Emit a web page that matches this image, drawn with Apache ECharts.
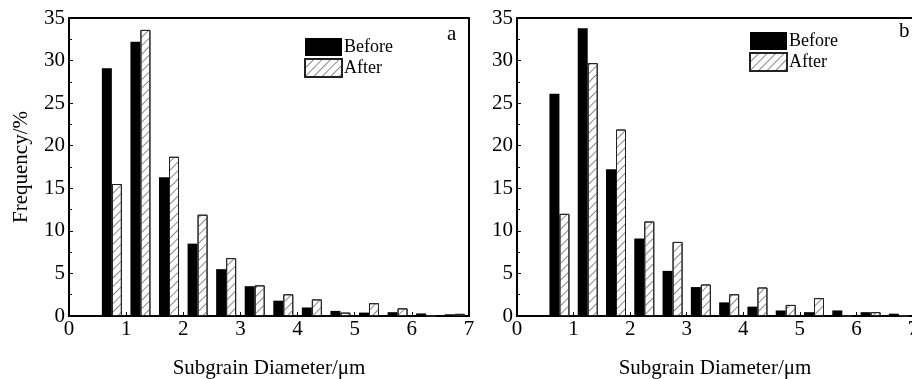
<!DOCTYPE html>
<html>
<head>
<meta charset="utf-8">
<script src="https://cdn.jsdelivr.net/npm/echarts@6/dist/echarts.min.js"></script>
<style>
html,body{margin:0;padding:0;background:#fff;}
#chart{width:912px;height:379px;}
</style>
</head>
<body>
<div id="chart"></div>
<script>
// Bin centres (µm)
const binCenters = [0.75, 1.25, 1.75, 2.25, 2.75, 3.25, 3.75, 4.25, 4.75, 5.25, 5.75, 6.25, 6.75];
// Panel a
const beforeA = [29.1, 32.2, 16.3, 8.5, 5.5, 3.5, 1.8, 1.0, 0.6, 0.4, 0.45, 0.3, 0.2];
const afterA  = [15.5, 33.6, 18.7, 11.9, 6.8, 3.6, 2.55, 1.95, 0.4, 1.5, 0.9, 0, 0.25];
// Panel b
const beforeB = [26.1, 33.8, 17.25, 9.1, 5.3, 3.4, 1.6, 1.1, 0.65, 0.45, 0.65, 0.45, 0.27];
const afterB  = [12.0, 29.7, 21.9, 11.1, 8.7, 3.7, 2.55, 3.35, 1.3, 2.1, 0, 0.45, 0];

const xTicks = [0, 7, 1];   // min, max, interval
const yTicks = [0, 35, 5];
const panelLabels = ['a', 'b'];
const seriesNames = ['Before', 'After'];
const xTitle = 'Subgrain Diameter/μm';
const yTitle = 'Frequency/%';

const FONT = 'Liberation Serif';
const pair = (vals) => binCenters.map((c, i) => [c, vals[i]]);

const hatch = {
  symbol: 'rect', symbolSize: 1,
  dashArrayX: [1, 0], dashArrayY: [1, 5],
  rotation: -Math.PI / 4, color: '#8a8a8a'
};

function xAxis(gi) {
  return {
    type: 'value', gridIndex: gi, min: xTicks[0], max: xTicks[1], interval: xTicks[2],
    name: xTitle, nameLocation: 'middle', nameGap: 42,
    nameTextStyle: {fontFamily: FONT, fontSize: 21, color: '#000', verticalAlign: 'top'},
    axisLine: {show: true, onZero: false, lineStyle: {color: '#000', width: 2}},
    axisTick: {show: true, inside: true, length: 4, lineStyle: {color: '#000'}},
    axisLabel: {fontFamily: FONT, fontSize: 21, color: '#000', margin: 3},
    splitLine: {show: false}
  };
}
function yAxis(gi, withName) {
  return {
    type: 'value', gridIndex: gi, min: yTicks[0], max: yTicks[1], interval: yTicks[2],
    name: withName ? yTitle : '', nameLocation: 'middle', nameGap: 37,
    nameTextStyle: {fontFamily: FONT, fontSize: 21, color: '#000'},
    axisLine: {show: true, lineStyle: {color: '#000', width: 2}},
    axisTick: {show: true, inside: true, length: 4, lineStyle: {color: '#000'}},
    minorTick: {show: true, splitNumber: 2, length: 3, lineStyle: {color: '#000'}},
    axisLabel: {fontFamily: FONT, fontSize: 21, color: '#000', margin: 4},
    splitLine: {show: false}
  };
}
function barSeries(name, vals, gi, isAfter) {
  return {
    name: name, type: 'bar', xAxisIndex: gi, yAxisIndex: gi,
    barWidth: 10, barGap: '0%',
    data: pair(vals),
    itemStyle: isAfter
      ? {color: '#fff', borderColor: '#222', borderWidth: 1, decal: hatch}
      : {color: '#000'},
    emphasis: {disabled: true}
  };
}

const chart = echarts.init(document.getElementById('chart'), null, {renderer: 'canvas'});
chart.setOption({
  animation: false,
  backgroundColor: '#fff',
  grid: [
    {left: 69, top: 18, width: 400, height: 298, show: true, borderColor: '#000', borderWidth: 2,
     outerBoundsMode: 'none', containLabel: false},
    {left: 517, top: 18, width: 396, height: 298, show: true, borderColor: '#000', borderWidth: 2,
     outerBoundsMode: 'none', containLabel: false}
  ],
  xAxis: [xAxis(0), xAxis(1)],
  yAxis: [yAxis(0, true), yAxis(1, false)],
  legend: [
    {left: 304, top: 38, orient: 'vertical', padding: 0, itemWidth: 37, itemHeight: 18, itemGap: 2,
     icon: 'rect', selectedMode: false, data: seriesNames,
     textStyle: {fontFamily: FONT, fontSize: 18, color: '#000', padding: [0, 0, 0, -3]}},
    {left: 749, top: 32, orient: 'vertical', padding: 0, itemWidth: 37, itemHeight: 18, itemGap: 2,
     icon: 'rect', selectedMode: false, data: seriesNames,
     textStyle: {fontFamily: FONT, fontSize: 18, color: '#000', padding: [0, 0, 0, -3]}}
  ],
  graphic: [
    {type: 'text', left: 447, top: 24, style: {text: panelLabels[0], font: '21px "Liberation Serif"', fill: '#000'}},
    {type: 'text', left: 899, top: 21, style: {text: panelLabels[1], font: '21px "Liberation Serif"', fill: '#000'}}
  ],
  series: [
    barSeries(seriesNames[0], beforeA, 0, false),
    barSeries(seriesNames[1], afterA, 0, true),
    barSeries(seriesNames[0], beforeB, 1, false),
    barSeries(seriesNames[1], afterB, 1, true)
  ]
});
</script>
</body>
</html>
